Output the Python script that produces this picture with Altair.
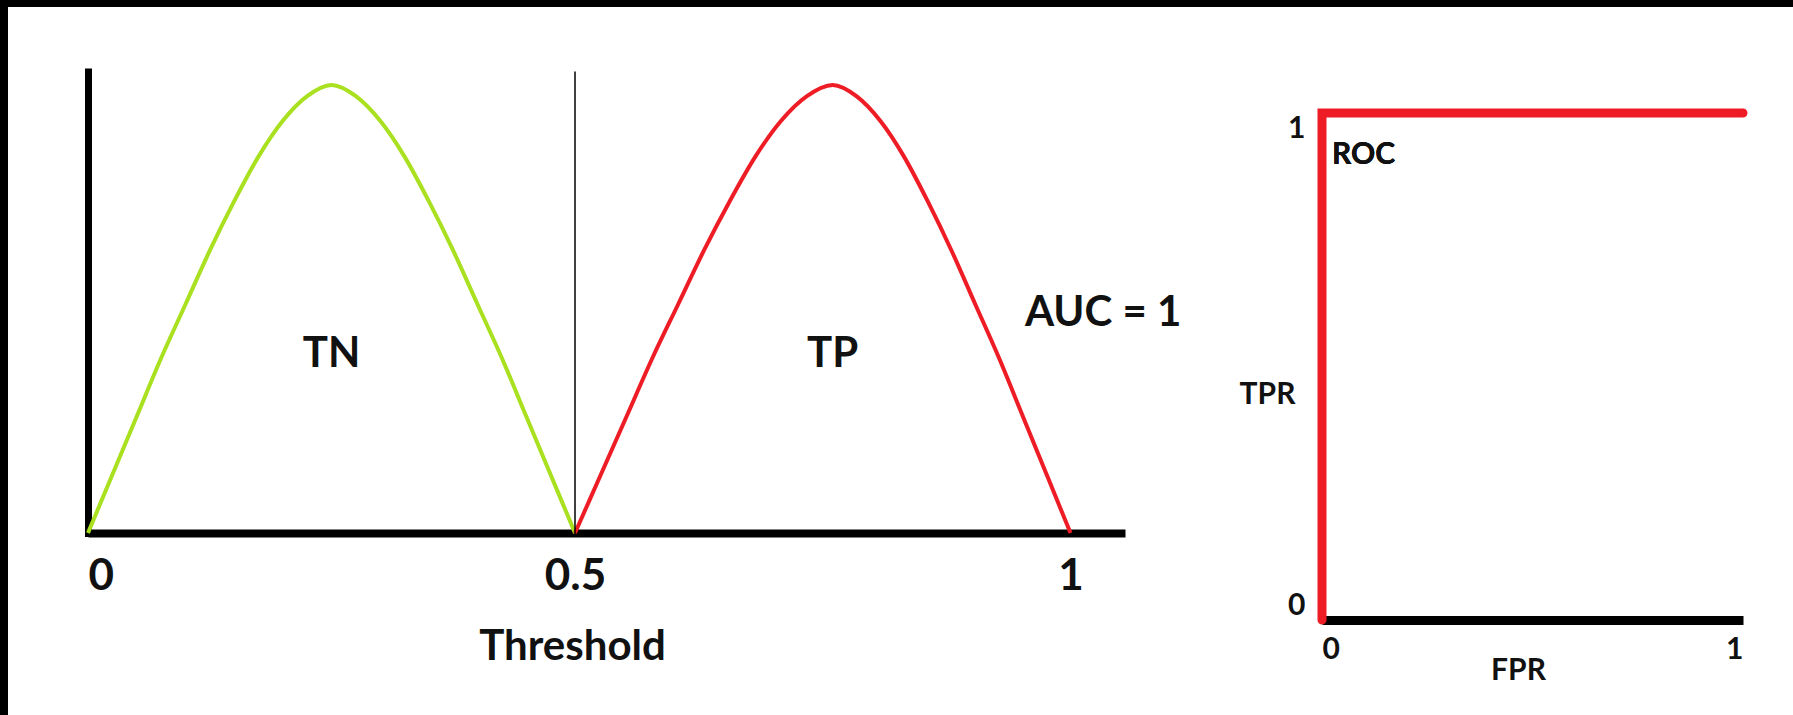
import altair as alt
import pandas as pd

# Score distributions for the two classes (threshold on x, density on y)
tn_threshold = [0.0, 0.025, 0.05, 0.075, 0.1, 0.125, 0.15, 0.175, 0.2, 0.225, 0.25,
                0.275, 0.3, 0.325, 0.35, 0.375, 0.4, 0.425, 0.45, 0.475, 0.5]
tn_density = [0.0, 0.13, 0.26, 0.39, 0.51, 0.63, 0.74, 0.84, 0.92, 0.975, 1.0,
              0.975, 0.92, 0.84, 0.74, 0.63, 0.51, 0.39, 0.26, 0.13, 0.0]

tp_threshold = [0.5, 0.526, 0.552, 0.578, 0.604, 0.63, 0.656, 0.682, 0.708, 0.734, 0.76,
                0.784, 0.808, 0.832, 0.856, 0.88, 0.904, 0.928, 0.952, 0.976, 1.0]
tp_density = [0.0, 0.13, 0.26, 0.39, 0.51, 0.63, 0.74, 0.84, 0.92, 0.975, 1.0,
              0.975, 0.92, 0.84, 0.74, 0.63, 0.51, 0.39, 0.26, 0.13, 0.0]

# Cut-off line between the classes
cutoff = [0.5]
cutoff_top = [1.03]

# Axis ticks
threshold_ticks = [0, 0.5, 1]
rate_ticks = [0, 1]

# ROC curve of a perfect classifier
roc_fpr = [0.0, 0.0, 1.0]
roc_tpr = [0.0, 1.0, 1.0]

FONT = "Lato"
INK = "#111111"
GREEN = "#a9e01f"
RED = "#ee1c25"

tn_df = pd.DataFrame({"t": tn_threshold, "h": tn_density})
tp_df = pd.DataFrame({"t": tp_threshold, "h": tp_density})
cut_df = pd.DataFrame({"t": cutoff, "h": [0.0], "h2": cutoff_top})
roc_df = pd.DataFrame({"fpr": roc_fpr, "tpr": roc_tpr})

# ---- left panel: class distributions over the threshold ----
x_scale_a = alt.Scale(domain=[0, 0.5, 1.055], range=[80, 567, 1117], nice=False, zero=False)
y_scale_a = alt.Scale(domain=[0, 1.03], range=[526, 64.5], nice=False, zero=False)

x_axis_a = alt.Axis(
    values=threshold_ticks, format="~g", orient="bottom", offset=-182,
    domainColor="black", domainWidth=8, ticks=False, tickSize=0, grid=False,
    labelFlush=True, labelFont=FONT, labelFontSize=44, labelFontWeight="bold",
    labelColor=INK, labelPadding=21,
    title="Threshold", titleFont=FONT, titleFontSize=42, titleFontWeight="bold",
    titleColor=INK, titleX=564, titleY=113, titleBaseline="middle", titleAlign="center",
)
y_axis_a = alt.Axis(
    orient="left", offset=-80, domainColor="black", domainWidth=7, domainCap="square",
    labels=False, ticks=False, tickSize=0, grid=False, title=None,
)

xa = alt.X("t:Q", scale=x_scale_a, axis=x_axis_a)
ya = alt.Y("h:Q", scale=y_scale_a, axis=y_axis_a)

tn_line = alt.Chart(tn_df).mark_line(
    color=GREEN, strokeWidth=4, interpolate="monotone"
).encode(x=xa, y=ya)
tp_line = alt.Chart(tp_df).mark_line(
    color=RED, strokeWidth=4, interpolate="monotone"
).encode(x=xa, y=ya)
cut_rule = alt.Chart(cut_df).mark_rule(color="black", strokeWidth=1.5).encode(
    x=xa, y=ya, y2="h2:Q"
)


def note(text, t, h, size=42):
    return alt.Chart(cut_df).mark_text(
        text=text, font=FONT, fontSize=size, fontWeight="bold", color=INK,
        align="center", baseline="middle",
    ).encode(x=alt.datum(t, scale=x_scale_a, axis=x_axis_a),
             y=alt.datum(h, scale=y_scale_a, axis=y_axis_a))


panel_a = alt.layer(
    tn_line, tp_line, cut_rule,
    note("TN", 0.25, 0.40),
    note("TP", 0.76, 0.40),
    note("AUC = 1", 1.033, 0.49),
)

# ---- right panel: ROC curve ----
x_scale_b = alt.Scale(domain=[0, 1], range=[1314, 1735], nice=False, zero=False)
y_scale_b = alt.Scale(domain=[0, 1], range=[613, 106], nice=False, zero=False)

x_axis_b = alt.Axis(
    values=rate_ticks, format="~g", orient="bottom", offset=-95,
    domainColor="black", domainWidth=9, ticks=False, tickSize=0, grid=False,
    labelFlush=True, labelFont=FONT, labelFontSize=30, labelFontWeight="bold",
    labelColor=INK, labelPadding=14,
    title="FPR", titleFont=FONT, titleFontSize=30, titleFontWeight="bold",
    titleColor=INK, titleX=1510, titleY=50, titleBaseline="middle", titleAlign="center",
)
y_axis_b = alt.Axis(
    values=rate_ticks, format="~g", orient="left", offset=-1314,
    domain=False, ticks=False, tickSize=0, grid=False,
    labelFlush=True, labelFont=FONT, labelFontSize=30, labelFontWeight="bold",
    labelColor=INK, labelPadding=17,
    title="TPR", titleFont=FONT, titleFontSize=30, titleFontWeight="bold",
    titleColor=INK, titleAngle=0, titleX=-55, titleY=387,
    titleBaseline="middle", titleAlign="center",
)

roc_line = alt.Chart(roc_df).mark_line(
    color=RED, strokeWidth=9, strokeCap="round", strokeJoin="miter"
).encode(
    x=alt.X("fpr:Q", scale=x_scale_b, axis=x_axis_b),
    y=alt.Y("tpr:Q", scale=y_scale_b, axis=y_axis_b),
    order=alt.value(0),
)
roc_note = alt.Chart(roc_df).mark_text(
    text="ROC", font=FONT, fontSize=30, fontWeight="bold", color=INK,
    align="left", baseline="middle", dx=10, dy=42,
).encode(
    x=alt.datum(0, scale=x_scale_b, axis=x_axis_b),
    y=alt.datum(1, scale=y_scale_b, axis=y_axis_b),
)

panel_b = alt.layer(roc_line, roc_note)

chart = alt.layer(panel_a, panel_b).resolve_scale(
    x="independent", y="independent"
).resolve_axis(
    x="independent", y="independent"
).properties(
    width=1785, height=708,
    autosize=alt.AutoSizeParams(type="none"),
    padding={"left": 8, "top": 7, "right": 0, "bottom": 0},
    background="black",
).configure_view(fill="white", stroke=None)

chart.save("out.html", embed_options={"renderer": "svg", "actions": False})
